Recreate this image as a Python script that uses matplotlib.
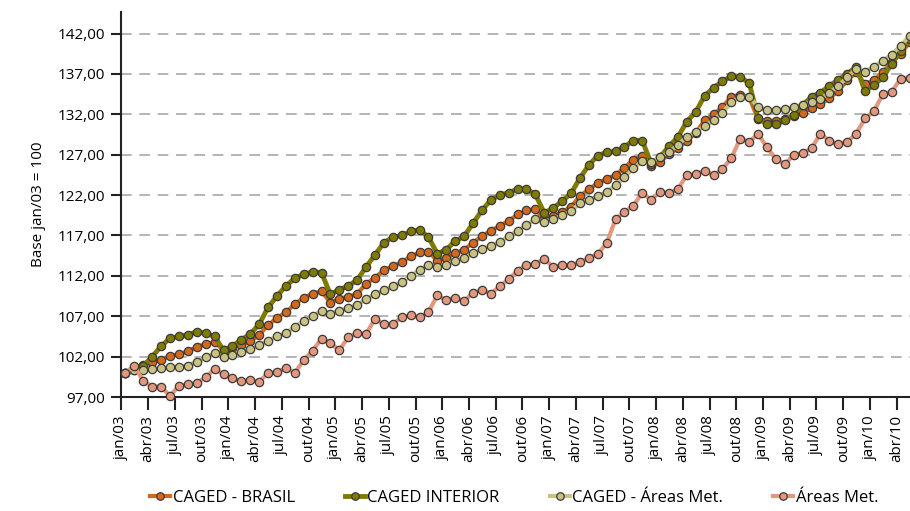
import matplotlib
matplotlib.use("Agg")
import matplotlib.pyplot as plt
import numpy as np

plt.rcParams['font.family'] = ['Open Sans', 'DejaVu Sans']

# Índices mensais jan/03 a mai/10 (base jan/03 = 100)
caged_brasil = [
    100.0, 100.4, 101.0, 101.3, 101.6, 102.1, 102.3, 102.65, 103.2, 103.6, 103.8, 102.8,
    103.1, 103.5, 103.9, 104.7, 105.9, 106.8, 107.5, 108.5, 109.3, 109.8, 110.1, 108.7,
    109.2, 109.4, 109.8, 111.0, 111.8, 112.7, 113.2, 113.7, 114.4, 114.9, 115.0, 113.9,
    114.2, 114.8, 115.25, 116.1, 116.9, 117.6, 118.2, 118.8, 119.6, 120.1, 120.25, 119.0,
    119.4, 119.9, 120.55, 121.9, 122.7, 123.5, 124.0, 124.5, 125.4, 126.4, 126.9, 125.6,
    126.1, 127.1, 127.8, 128.7, 129.7, 131.25, 132.0, 132.9, 134.2, 134.4, 134.1, 131.4,
    131.2, 131.2, 131.4, 131.8, 132.2, 132.75, 133.25, 134.0, 134.9, 136.2, 137.2, 135.75,
    136.25, 137.2, 138.5, 139.5, 140.9,
]
caged_interior = [
    100.0, 100.6, 100.9, 102.0, 103.3, 104.3, 104.5, 104.7, 105.1, 104.9, 104.5, 102.8,
    103.3, 104.1, 104.8, 106.0, 108.1, 109.5, 110.75, 111.7, 112.2, 112.5, 112.4, 109.7,
    110.3, 110.75, 111.5, 113.1, 114.6, 116.1, 116.8, 117.0, 117.5, 117.7, 116.8, 114.75,
    115.25, 116.3, 116.9, 118.5, 120.1, 121.4, 122.0, 122.3, 122.75, 122.75, 122.1, 119.8,
    120.4, 121.25, 122.2, 124.1, 125.7, 126.9, 127.3, 127.4, 128.0, 128.75, 128.75, 125.9,
    126.7, 128.05, 129.2, 131.1, 132.3, 134.3, 135.3, 136.1, 136.7, 136.6, 135.9, 131.5,
    130.8, 130.75, 131.25, 131.9, 133.1, 134.2, 134.7, 135.5, 136.3, 137.0, 137.9, 134.9,
    135.6, 136.6, 138.25, 139.8, 141.3,
]
caged_areas_met = [
    100.0, 100.3, 100.3, 100.45, 100.55, 100.7, 100.75, 100.9, 101.4, 101.9, 102.4, 101.97,
    102.2, 102.6, 102.9, 103.4, 104.0, 104.5, 104.9, 105.7, 106.4, 107.0, 107.7, 107.3,
    107.7, 108.0, 108.4, 109.1, 109.7, 110.2, 110.7, 111.2, 112.0, 112.75, 113.4, 113.1,
    113.4, 113.9, 114.2, 114.8, 115.3, 115.7, 116.2, 116.9, 117.6, 118.3, 119.0, 118.7,
    119.0, 119.5, 120.0, 121.0, 121.4, 121.9, 122.4, 123.2, 124.25, 125.3, 126.2, 126.1,
    126.7, 127.3, 128.2, 129.2, 129.8, 130.55, 131.25, 132.2, 133.5, 134.1, 134.2, 132.9,
    132.5, 132.5, 132.6, 132.9, 133.2, 133.5, 133.9, 134.7, 135.5, 136.6, 137.6, 137.3,
    137.9, 138.6, 139.4, 140.5, 141.7,
]
areas_met = [
    100.0, 100.9, 98.96, 98.3, 98.26, 97.15, 98.4, 98.6, 98.74, 99.44, 100.5, 99.8,
    99.35, 98.93, 99.1, 98.9, 100.0, 100.08, 100.57, 100.0, 101.55, 102.76, 104.2, 103.7,
    102.8, 104.4, 104.9, 104.8, 106.7, 106.0, 106.0, 106.9, 107.1, 106.85, 107.5, 109.6,
    109.0, 109.3, 108.9, 109.9, 110.3, 109.8, 110.7, 111.6, 112.6, 113.4, 113.5, 114.1,
    113.1, 113.3, 113.3, 113.7, 114.2, 114.7, 116.05, 119.0, 119.9, 120.7, 122.3, 121.4,
    122.4, 122.3, 122.75, 124.5, 124.6, 125.0, 124.5, 125.2, 126.6, 129.0, 128.6, 129.6,
    127.9, 126.5, 125.8, 127.0, 127.2, 127.8, 129.6, 128.75, 128.3, 128.6, 129.6, 131.5,
    132.4, 134.5, 134.8, 136.4, 136.5,
]

meses = ['jan', 'abr', 'jul', 'out']
anos = ['03', '04', '05', '06', '07', '08', '09', '10']
rotulos_x = [f"{m}/{a}" for a in anos for m in meses][:30]

series = [
    ("CAGED - BRASIL", caged_brasil, "#D2691E", 3.0),
    ("CAGED INTERIOR", caged_interior, "#7F7A00", 3.5),
    ("CAGED - Áreas Met.", caged_areas_met, "#C9C283", 3.0),
    ("Áreas Met.", areas_met, "#E3977D", 3.0),
]

x = np.arange(len(caged_brasil))

fig = plt.figure(figsize=(9.10, 5.11), dpi=100)
ax = fig.add_axes([0.1335, 0.223, 0.8665, 0.754])

# a ordem da legenda é também a ordem de desenho (última série por cima)
for k, (nome, valores, cor, lw) in enumerate(series):
    ax.plot(x, valores, color=cor, lw=lw, marker='o', markersize=6,
            markerfacecolor=cor, markeredgecolor='#3a3a3a', markeredgewidth=0.9,
            label=nome, clip_on=False, zorder=3 + k)

ax.set_xlim(-0.45, 88.05)
ax.set_ylim(97, 144.7)

yt = np.arange(97, 143, 5)
ax.set_yticks(yt)
ax.set_yticklabels([f"{v:.2f}".replace('.', ',') for v in yt], fontsize=11)
for v in yt[1:]:
    ax.axhline(v, color='#a0a0a0', lw=1.1, ls=(0, (7, 5)), zorder=1)

ax.set_xticks(np.arange(0, len(rotulos_x) * 3, 3) - 0.45)
ax.set_xticklabels(rotulos_x, rotation=90, fontsize=11)
ax.tick_params(axis='x', length=9, width=1.5, color='#222222', pad=4)
ax.tick_params(axis='y', length=7, width=1.5, color='#222222', pad=5)

ax.spines['top'].set_visible(False)
ax.spines['right'].set_visible(False)
ax.spines['left'].set_linewidth(1.5)
ax.spines['bottom'].set_linewidth(1.5)
ax.spines['left'].set_color('#222222')
ax.spines['bottom'].set_color('#222222')

ax.set_ylabel("Base jan/03 = 100", fontsize=11, labelpad=8)

fig.legend(loc='center', bbox_to_anchor=(0.565, 0.026),
           ncol=4, frameon=False, fontsize=12, handlelength=1.2,
           handletextpad=0.15, columnspacing=3.0, markerscale=0.9)

fig.savefig("out.png", dpi=100)
